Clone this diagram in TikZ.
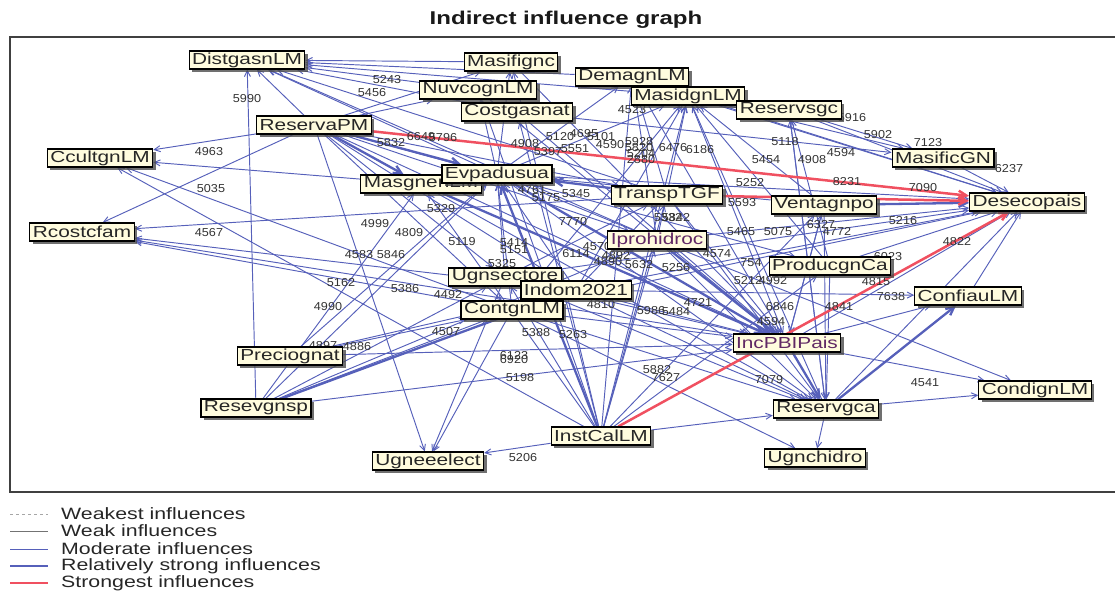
\documentclass[tikz,border=0pt]{standalone}
\usepackage{fontspec}
\usetikzlibrary{arrows.meta,shadows}
\newfontfamily\nodefont[FakeStretch=1.3]{Liberation Sans}
\newfontfamily\labfont[FakeStretch=1.1]{Liberation Sans}
\newfontfamily\titlefont[FakeStretch=1.3]{Liberation Sans}
\definecolor{eblue}{RGB}{86,96,186}
\definecolor{ered}{RGB}{240,80,96}
\definecolor{cream}{RGB}{255,252,222}
\definecolor{purp}{RGB}{96,40,100}
\pgfdeclarelayer{bg}
\pgfdeclarelayer{lbl}
\pgfsetlayers{bg,lbl,main}
\tikzset{
  vn/.style={draw=black, line width=1.1pt, fill=cream,
    font=\nodefont\fontsize{16}{16}\selectfont, text=black!85,
    inner xsep=3pt, inner ysep=1pt, minimum height=18pt,
    drop shadow={shadow xshift=3pt, shadow yshift=-3pt, fill=black!70, opacity=0.8}},
  mod/.style={draw=eblue, line width=0.95pt, -{Straight Barb[length=6pt,width=6pt]}},
  strong/.style={draw=eblue, line width=2.3pt, -{Straight Barb[length=8pt,width=8pt]}},
  topinf/.style={draw=ered, line width=2.5pt, -{Straight Barb[length=8pt,width=8pt]}},
  lab/.style={font=\labfont\fontsize{11.5}{12}\selectfont, text=black!80, inner sep=0pt},
  legtext/.style={font=\nodefont\fontsize{16.4}{17}\selectfont, text=black!85, anchor=west, inner sep=0pt},
}
\begin{document}
\begin{tikzpicture}[x=1pt,y=-1pt]
\useasboundingbox (0,0) rectangle (1115,592);
\node[font=\titlefont\bfseries\fontsize{18.5}{19}\selectfont, text=black!90] (title) at (566,20) {Indirect influence graph};

% variables
\node[vn] (Distgas) at (247,60) {DistgasnLM};
\node[vn] (Masifig) at (511,62) {Masifignc};
\node[vn] (Demagn) at (632,77) {DemagnLM};
\node[vn] (Nuvcogn) at (478,90) {NuvcognLM};
\node[vn] (Masidgn) at (688,96) {MasidgnLM};
\node[vn] (Costgas) at (517,112) {Costgasnat};
\node[vn] (Reservsg) at (789,110) {Reservsgc};
\node[vn] (ReservaPM) at (314,125) {ReservaPM};
\node[vn] (Ccultgn) at (100,158) {CcultgnLM};
\node[vn] (MasificGN) at (943,158) {MasificGN};
\node[vn] (Masgne) at (421,184) {MasgnenLM};
\node[vn] (Evpad) at (497,174) {Evpadusua};
\node[vn] (TranspTGF) at (667,195) {TranspTGF};
\node[vn] (Desecop) at (1027,202) {Desecopais};
\node[vn] (Ventag) at (824,205) {Ventagnpo};
\node[vn] (Rcostc) at (82,232) {Rcostcfam};
\node[vn, text=purp] (Iprohid) at (657,240) {Iprohidroc};
\node[vn] (Producgn) at (830,266) {ProducgnCa};
\node[vn] (Ugnsect) at (505,277) {Ugnsectore};
\node[vn] (Indom) at (576,290) {Indom2021};
\node[vn] (Confiau) at (968,296) {ConfiauLM};
\node[vn] (Contgn) at (512,310) {ContgnLM};
\node[vn, text=purp] (IncPBI) at (787,343) {IncPBIPais};
\node[vn] (Precio) at (290,356) {Preciognat};
\node[vn] (Condign) at (1035,390) {CondignLM};
\node[vn] (Resevgnsp) at (256,408) {Resevgnsp};
\node[vn] (Reservgca) at (826,409) {Reservgca};
\node[vn] (InstCal) at (601,436) {InstCalLM};
\node[vn] (Ugneee) at (428,461) {Ugneeelect};
\node[vn] (Ugnchid) at (815,458) {Ugnchidro};

\begin{pgfonlayer}{bg}
\draw[line width=1.6pt, black!75] (10,37) rectangle (1130,492);
\foreach \a/\b in {
 Masifig/Distgas, Nuvcogn/Distgas, Costgas/Distgas, Resevgnsp/Distgas, Evpad/Distgas,
 ReservaPM/Distgas, Masidgn/Distgas, TranspTGF/Distgas, Iprohid/Distgas, Demagn/Distgas,
 ReservaPM/Ccultgn, Masgne/Ccultgn, InstCal/Ccultgn, Contgn/Ccultgn,
 ReservaPM/Rcostc, TranspTGF/Rcostc, Contgn/Rcostc, IncPBI/Rcostc, Indom/Rcostc,
 ReservaPM/Ugneee, Contgn/Ugneee, Ugnsect/Ugneee, InstCal/Ugneee,
 Reservgca/Condign, IncPBI/Condign, Iprohid/Condign,
 Reservgca/Ugnchid, Contgn/Ugnchid,
 IncPBI/Confiau, Indom/Confiau,
 Reservsg/Desecop, MasificGN/Desecop, Producgn/Desecop, IncPBI/Desecop, Confiau/Desecop,
 Masidgn/Desecop, Iprohid/Desecop, Reservgca/Desecop, Evpad/Desecop, Demagn/Desecop,
 Indom/Desecop, Contgn/Desecop, Ugnsect/Desecop,
 Masidgn/MasificGN, Reservsg/MasificGN, Costgas/MasificGN,
 Ugnsect/IncPBI, Indom/IncPBI, Contgn/IncPBI, TranspTGF/IncPBI,
 ReservaPM/IncPBI, Costgas/IncPBI, Masidgn/IncPBI, Precio/IncPBI, Ventag/IncPBI,
 Nuvcogn/IncPBI, Demagn/IncPBI, Masifig/IncPBI, Resevgnsp/IncPBI,
 Reservsg/Reservgca, Ventag/Reservgca, Indom/Reservgca, Contgn/Reservgca, Ugnsect/Reservgca,
 Evpad/Reservgca, TranspTGF/Reservgca, InstCal/Reservgca, Iprohid/Reservgca, Producgn/Reservgca,
 InstCal/Masidgn, InstCal/TranspTGF, InstCal/Costgas, InstCal/Masgne, InstCal/Ugnsect,
 InstCal/Masifig, InstCal/Demagn, InstCal/Producgn, InstCal/Iprohid, InstCal/Ventag, InstCal/Nuvcogn,
 Resevgnsp/Contgn, Resevgnsp/Evpad, Resevgnsp/Masgne, Resevgnsp/Ugnsect, Resevgnsp/Iprohid,
 Precio/Contgn, Precio/Indom, Precio/Evpad,
 ReservaPM/TranspTGF, ReservaPM/Iprohid, ReservaPM/Contgn, ReservaPM/Indom,
 ReservaPM/Ugnsect, ReservaPM/Reservgca, ReservaPM/Producgn, ReservaPM/Nuvcogn, ReservaPM/Masifig,
 Ugnsect/Evpad, Contgn/Evpad, Indom/Evpad, Iprohid/Evpad, Ventag/Evpad,
 Evpad/Masifig, Evpad/Demagn, Evpad/Masidgn, Evpad/Nuvcogn,
 Iprohid/Masidgn, Indom/Masidgn, Producgn/Masidgn, Ventag/Masidgn, Contgn/Masidgn,
 TranspTGF/Demagn, Iprohid/Demagn, Indom/TranspTGF, Ugnsect/TranspTGF,
 IncPBI/Ventag, Reservgca/Masidgn, Reservgca/Reservsg, Producgn/Reservsg}
 \draw[mod] (\a) -- (\b);
\foreach \a/\b in {
 ReservaPM/Evpad, TranspTGF/Evpad, Ventag/Desecop, IncPBI/Reservgca, Reservgca/Confiau,
 Resevgnsp/Indom, InstCal/Evpad, ReservaPM/Masgne, Masgne/IncPBI, Iprohid/IncPBI, Evpad/IncPBI}
 \draw[strong] (\a) -- (\b);
\foreach \a/\b in {ReservaPM/Desecop, TranspTGF/Desecop, InstCal/Desecop}
 \draw[topinf] (\a) -- (\b);
\end{pgfonlayer}

\begin{pgfonlayer}{lbl}
\foreach \x/\y/\t [count=\i] in {
 387/80/5243, 372/93/5456, 247/99/5990, 209/152/4963, 211/189/5035, 209/233/4567,
 421/137/6649, 443/138/5796, 391/143/5832, 525/144/4908, 375/224/4999, 409/233/4809,
 462/242/5119, 514/243/5414, 514/250/5151, 359/255/4583, 391/255/5846, 502/264/5325,
 341/283/5162, 405/289/5386, 448/295/4492, 441/209/5329, 532/190/4761, 546/198/5175,
 328/307/4990, 446/332/4507, 323/346/4897, 357/347/4886, 536/333/5388, 514/356/6123,
 514/360/6920, 520/378/5198, 523/458/5206,
 632/110/4523, 852/118/5916, 878/135/5902, 928/143/7123, 1009/169/6237, 785/142/5118,
 766/160/5454, 812/160/4908, 841/153/4594, 847/182/8231, 923/188/7090, 750/183/5252,
 903/221/5216, 957/242/4822, 821/225/6327, 837/231/4772, 741/232/5465, 778/232/5075,
 717/254/4574, 751/263/754, 888/257/6023, 748/281/5212, 773/281/4992, 876/282/4815,
 891/297/7638, 676/218/5842, 668/218/5332, 673/148/6476, 700/150/6186, 641/154/5204,
 641/160/2880, 639/142/5928, 639/148/5820, 610/145/4590, 601/137/5101, 584/134/4695,
 560/137/5120, 576/194/5345, 573/222/7770, 576/254/6114, 616/256/4892, 608/262/4890,
 639/265/5632, 676/268/5256, 742/203/5593, 601/305/4810, 698/302/4721, 651/311/5986,
 676/312/5484, 780/307/6846, 839/307/4841, 771/322/4594, 573/335/5263, 657/370/5882,
 666/378/7627, 769/380/7079, 925/383/4541, 575/149/5551, 548/152/5397, 597/247/4570}
 \node[lab] (l\i) at (\x,\y) {\t};
\end{pgfonlayer}

% legend
\coordinate (w1) at (10,514); \coordinate (w2) at (48,514);
\coordinate (k1) at (10,531); \coordinate (k2) at (48,531);
\coordinate (m1) at (10,549); \coordinate (m2) at (48,549);
\coordinate (s1) at (10,566); \coordinate (s2) at (48,566);
\coordinate (t1) at (10,583); \coordinate (t2) at (48,583);
\draw[black!35, dashed, line width=0.6pt] (w1) -- (w2);
\draw[black!55, line width=0.9pt] (k1) -- (k2);
\draw[eblue, line width=0.9pt] (m1) -- (m2);
\draw[eblue, line width=2.3pt] (s1) -- (s2);
\draw[ered, line width=2.5pt] (t1) -- (t2);
\node[legtext] (lg1) at (61,514) {Weakest influences};
\node[legtext] (lg2) at (61,531) {Weak influences};
\node[legtext] (lg3) at (61,549) {Moderate influences};
\node[legtext] (lg4) at (61,566) {Relatively strong influences};
\node[legtext] (lg5) at (61,583) {Strongest influences};
\end{tikzpicture}
\end{document}
